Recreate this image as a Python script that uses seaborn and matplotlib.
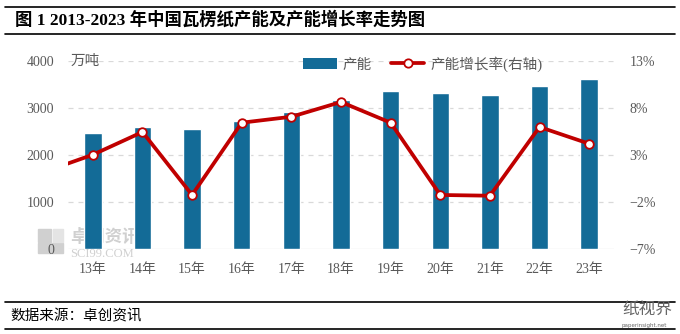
import matplotlib
matplotlib.use("Agg")
import matplotlib.pyplot as plt
import seaborn as sns
import pandas as pd
from matplotlib.patches import Patch, Rectangle
from matplotlib.lines import Line2D
from matplotlib.ticker import FuncFormatter

# ---- data ----
years = ["13年", "14年", "15年", "16年", "17年", "18年", "19年", "20年", "21年", "22年", "23年"]
capacity = [2474, 2602, 2560, 2730, 2915, 3177, 3368, 3326, 3283, 3474, 3623]
# growth rate (%); first value belongs to the (hidden) 2012 point the line starts from
growth_years = ["12年"] + years
growth = [1.2, 3.06, 5.48, -1.22, 6.47, 7.1, 8.67, 6.47, -1.22, -1.3, 6.01, 4.23]
left_ticks = [0, 1000, 2000, 3000, 4000]
right_ticks = [-7, -2, 3, 8, 13]

title = "图 1 2013-2023 年中国瓦楞纸产能及产能增长率走势图"
source = "数据来源：卓创资讯"

BAR = "#136b97"
RED = "#c00000"
GRAY = "#595959"
FAM = ["Liberation Serif", "Noto Sans CJK SC", "DejaVu Sans"]

sns.set_theme(style="white")
plt.rcParams["font.family"] = FAM
plt.rcParams["axes.unicode_minus"] = True

fig = plt.figure(figsize=(6.8, 3.34), dpi=100)
ax = fig.add_axes([68 / 680, 1 - 249.3 / 334, 546 / 680, 188 / 334])
ax.set_zorder(1)
ax.patch.set_alpha(0)

# watermark logo (behind the chart)
wm = "#d0d0d0"
fig.patches.append(Rectangle((38 / 680, 1 - 253 / 334), 25 / 680, 10 / 334,
                             transform=fig.transFigure, color=wm, zorder=-2))
fig.patches.append(Rectangle((38 / 680, 1 - 242 / 334), 13 / 680, 13 / 334,
                             transform=fig.transFigure, color=wm, zorder=-2))
fig.patches.append(Rectangle((53 / 680, 1 - 242 / 334), 10 / 680, 13 / 334,
                             transform=fig.transFigure, color="#e4e4e4", zorder=-2))
fig.text(70 / 680, 1 - 237 / 334, "卓创资讯", fontsize=12.5, color=wm,
         ha="left", va="center", fontweight="bold", zorder=-2)
fig.text(70 / 680, 1 - 254 / 334, "SCI99.COM", fontsize=9, color=wm,
         ha="left", va="center", zorder=-2)

df_bar = pd.DataFrame({"year": years, "cap": capacity})
sns.barplot(data=df_bar, x="year", y="cap", color=BAR, width=0.35,
            saturation=1, ax=ax, zorder=2)
ax.set_ylim(0, 4000)
ax.set_yticks(left_ticks)
ax.set_xlim(-0.5, len(years) - 0.5)
ax.set_xlabel("")
ax.set_ylabel("")
for t in left_ticks[1:]:
    ax.axhline(t, color="#d9d9d9", lw=0.9, ls=(0, (4, 4)), zorder=0)
ax.axhline(0, color="#d9d9d9", lw=0.9, zorder=1)
for s in ax.spines.values():
    s.set_visible(False)
ax.tick_params(axis="y", length=0, labelsize=10, colors=GRAY, pad=10)
ax.tick_params(axis="x", length=0, labelsize=10, colors=GRAY, pad=10)

ax2 = ax.twinx()
ax2.patch.set_alpha(0)
pos = [growth_years.index(g) - 1 for g in growth_years]
df_line = pd.DataFrame({"pos": pos, "g": growth})
sns.lineplot(data=df_line, x="pos", y="g", color=RED, lw=2.7, ax=ax2, zorder=3)
df_pts = df_line[df_line["pos"] >= 0]
sns.scatterplot(data=df_pts, x="pos", y="g", s=38, color="white", edgecolor=RED,
                linewidth=1.3, ax=ax2, zorder=4)
ax2.set_ylim(-7, 13)
ax2.set_yticks(right_ticks)
ax2.yaxis.set_major_formatter(FuncFormatter(lambda v, p: f"{int(v)}%".replace("-", "−")))
ax2.set_xlim(-0.5, len(years) - 0.5)
ax2.set_xlabel("")
ax2.set_ylabel("")
for s in ax2.spines.values():
    s.set_visible(False)
ax2.tick_params(axis="y", length=0, labelsize=10, colors=GRAY, pad=11)
ax2.grid(False)
ax.grid(False)

ax.text(0.005, 1.0, "万吨", transform=ax.transAxes, fontsize=10.5, color=GRAY,
        ha="left", va="center")

handles = [Patch(facecolor=BAR, edgecolor="none"),
           Line2D([0], [0], color=RED, lw=2.7, marker="o", markersize=6,
                  markerfacecolor="white", markeredgecolor=RED, markeredgewidth=1.3)]
leg = ax2.legend(handles, ["产能", "产能增长率(右轴)"], ncol=2, frameon=False,
                 loc="center", bbox_to_anchor=(0.65, 0.985), fontsize=10.5,
                 handlelength=2.3, handletextpad=0.4, columnspacing=1.3,
                 handleheight=0.8)
for t in leg.get_texts():
    t.set_color(GRAY)

# title & rules
fig.text(15 / 680, 1 - 20 / 334, title, fontsize=12.5, fontweight="bold",
         ha="left", va="center", color="black")
for yy in [7, 34, 302, 329]:
    fig.add_artist(Line2D([5 / 680, 675 / 680], [1 - yy / 334] * 2,
                          color="black", lw=1.2, transform=fig.transFigure))
fig.text(10 / 680, 1 - 316 / 334, source, fontsize=10.5, ha="left", va="center",
         color="black")

# corner logo
fig.text(622 / 680, 1 - 311 / 334, "纸视界", fontsize=12, color="#666666",
         ha="left", va="center")
fig.text(622 / 680, 1 - 326 / 334, "paperinsight.net", fontsize=4, color="#666666",
         ha="left", va="center", family="DejaVu Sans")

fig.savefig("out.png", dpi=100)
